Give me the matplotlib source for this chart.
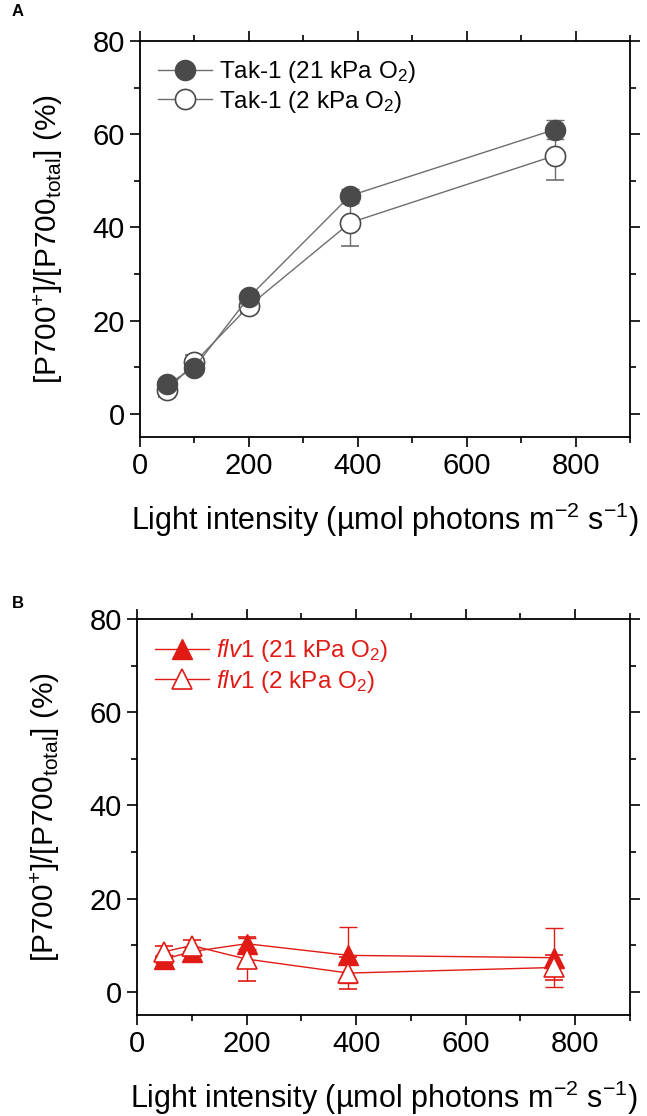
"""Oxidised P700 fraction vs light intensity, Tak-1 and flv1 at 21 / 2 kPa O2."""
import numpy as np
import matplotlib
matplotlib.use("Agg")
import matplotlib.pyplot as plt
from matplotlib.ticker import MultipleLocator

plt.rcParams["font.family"] = ["Liberation Sans", "DejaVu Sans"]
plt.rcParams["mathtext.fontset"] = "custom"
plt.rcParams["mathtext.rm"] = "Liberation Sans"
plt.rcParams["mathtext.it"] = "Liberation Sans:italic"

# light intensities (umol photons m-2 s-1)
light = [50, 100, 200, 386, 762]

# panel A: Tak-1
tak_21 = [6.3, 9.9, 25.0, 46.8, 61.0]
tak_21_err = [1.0, 1.0, 1.2, 1.5, 2.0]
tak_2 = [5.0, 11.0, 23.1, 41.0, 55.4]
tak_2_err = [1.5, 1.5, 1.5, 5.0, 5.3]

# panel B: flv1
flv_21 = [7.0, 8.6, 10.3, 7.8, 7.3]
flv_21_err = [0.8, 1.0, 1.2, 6.0, 6.3]
flv_2 = [8.6, 9.9, 7.0, 4.0, 5.2]
flv_2_err = [1.2, 1.3, 4.8, 3.5, 2.7]

xlabel = r"Light intensity (µmol photons m$^{\mathregular{-2}}$ s$^{\mathregular{-1}}$)"
ylabel = r"[P700$^{\mathregular{+}}$]/[P700$_{\mathregular{total}}$] (%)"

fig = plt.figure(figsize=(6.47, 11.16), dpi=100)
W, H = 647, 1116
axA = fig.add_axes([140 / W, 1 - 437 / H, 490 / W, 396 / H])
axB = fig.add_axes([137 / W, 1 - 1015 / H, 493 / W, 396 / H])

gray_line = "#6e6e6e"
gray_mark = "#4a4a4a"
red = "#e01a14"

kw = dict(capsize=6.5, elinewidth=1.0, capthick=1.0, lw=1.0)
ebA2 = axA.errorbar(light, tak_2, yerr=tak_2_err, fmt="-o", color=gray_line, mfc="white",
                    mec=gray_mark, mew=1.2, ms=14.5, ecolor=gray_line, zorder=2, **kw)
ebA21 = axA.errorbar(light, tak_21, yerr=tak_21_err, fmt="-o", color=gray_line, mfc=gray_mark,
                     mec=gray_mark, ms=14.5, ecolor=gray_line, zorder=3, **kw)

ebB21 = axB.errorbar(light, flv_21, yerr=flv_21_err, fmt="-^", color=red, mfc=red, mec=red,
                     ms=15, ecolor=red, zorder=3, **kw)
ebB2 = axB.errorbar(light, flv_2, yerr=flv_2_err, fmt="-^", color=red, mfc="white", mec=red,
                    mew=1.2, ms=15, ecolor=red, zorder=4, **kw)

for ax in (axA, axB):
    ax.set_xlim(0, 900)
    ax.set_ylim(-5, 80)
    ax.xaxis.set_major_locator(MultipleLocator(200))
    ax.xaxis.set_minor_locator(MultipleLocator(100))
    ax.yaxis.set_major_locator(MultipleLocator(20))
    ax.yaxis.set_minor_locator(MultipleLocator(10))
    ax.tick_params(which="both", direction="out", top=True, right=True, width=1.2)
    ax.tick_params(which="major", length=7, labelsize=21, pad=4)
    ax.tick_params(which="minor", length=4)
    for s in ax.spines.values():
        s.set_linewidth(1.3)
    ax.set_xlabel(xlabel, fontsize=22, labelpad=15)
    ax.set_ylabel(ylabel, fontsize=21.5, labelpad=20)

legkw = dict(loc="upper left", frameon=False, fontsize=17.5, handlelength=2.2,
             handletextpad=0.3, labelspacing=0.15, borderaxespad=0.35)
axA.legend([ebA21[0], ebA2[0]],
           [r"Tak-1 (21 kPa O$_{\mathregular{2}}$)", r"Tak-1 (2 kPa O$_{\mathregular{2}}$)"], **legkw)
legB = axB.legend([ebB21[0], ebB2[0]],
                  [r"$\mathit{flv1}$ (21 kPa O$_{\mathregular{2}}$)",
                   r"$\mathit{flv1}$ (2 kPa O$_{\mathregular{2}}$)"], **legkw)
for t in legB.get_texts():
    t.set_color(red)

fig.text(12 / W, 1 - 12 / H, "A", fontsize=12, fontweight="bold", va="center")
fig.text(12 / W, 1 - 604 / H, "B", fontsize=12, fontweight="bold", va="center")

fig.savefig("out.png", dpi=100)
